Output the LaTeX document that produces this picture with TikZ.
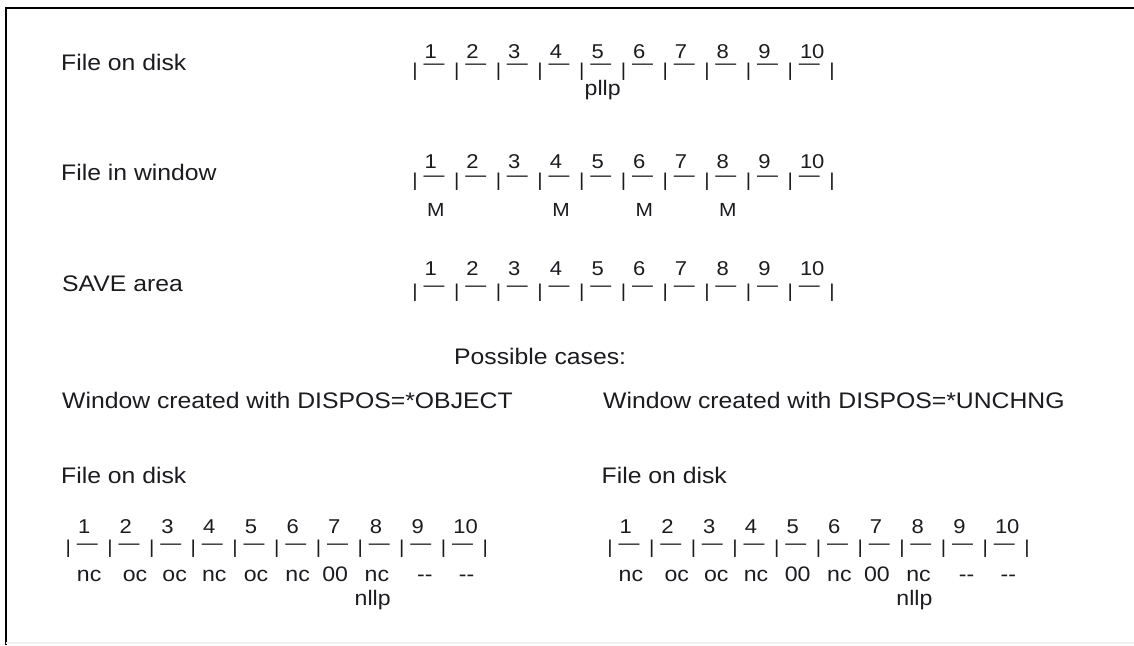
\documentclass[tikz,border=0pt]{standalone}
\usepackage{fontspec}
\setmainfont[FakeStretch=1.1]{Liberation Sans}
\definecolor{ink}{RGB}{28,28,32}
\newcommand\myruler[5]{%
  \foreach \k in {0,...,10}{\node[barglyph] (#1b\k) at ({#2+\k*41.7},#4) {|};}
  \foreach \k in {1,...,10}{%
    \node[dashglyph] (#1d\k) at ({#2+(\k-1)*41.7+19},#5) {—};
    \node[numtxt] (#1n\k) at ({#2+(\k-1)*41.7+9.5},#3) {\k};
  }%
}
\newcommand\mylabel[5]{% name, x0, cell, baseline, text
  \node[labtxt] (#1) at ({#2+(#3-0.5)*41.7},#4) {#5};
}
\begin{document}
\begin{tikzpicture}[x=1pt,y=-1pt,
  every node/.style={text=ink},
  maintxt/.style={font=\fontsize{22.5}{27}\selectfont, anchor=base west, inner sep=0pt},
  numtxt/.style={font=\fontsize{20}{24}\selectfont, anchor=base west, inner sep=0pt},
  barglyph/.style={font=\fontsize{18.6}{22}\selectfont, inner sep=0pt, anchor=center},
  dashglyph/.style={font=\fontsize{19}{23}\selectfont, inner sep=0pt, anchor=center},
  labtxt/.style={font=\fontsize{21}{25}\selectfont, anchor=base, inner sep=0pt},
  mtxt/.style={font=\fontsize{19}{23}\selectfont, anchor=base, inner sep=0pt},
  frame/.style={line width=2pt, black}]
\useasboundingbox (0,0) rectangle (1134,645);
\fill[white] (0,0) rectangle (1134,645);
\draw[frame] (6,645) -- (6,8) -- (1134,8);
\draw[gray!12, line width=1.5pt] (6,643) -- (1134,643);

% left labels
\node[maintxt] (t1) at (61,70) {File on disk};
\node[maintxt] (t2) at (61,180) {File in window};
\node[maintxt] (t3) at (62,291.7) {SAVE area};
\node[maintxt] (t4) at (454,364) {Possible cases:};
\node[maintxt] (t5) at (62,408.5) {Window created with DISPOS=*OBJECT};
\node[maintxt] (t6) at (603,408.5) {Window created with DISPOS=*UNCHNG};
\node[maintxt] (t7) at (61,483.3) {File on disk};
\node[maintxt] (t8) at (601.5,483.3) {File on disk};

% rulers
\myruler{ra}{415}{58.3}{71.7}{67}
\myruler{rb}{415}{168.3}{181.7}{178.5}
\myruler{rc}{415}{275}{292.5}{288.5}
\myruler{rd}{68.3}{533.3}{549.2}{546.5}
\myruler{re}{610}{533.3}{549.2}{546.5}

% ruler 1 label
\mylabel{pa}{415}{5}{95}{pllp}
% ruler 2 labels
\node[mtxt] (m1) at ({415+0.5*41.7},216.7) {M};
\node[mtxt] (m4) at ({415+3.5*41.7},216.7) {M};
\node[mtxt] (m6) at ({415+5.5*41.7},216.7) {M};
\node[mtxt] (m8) at ({415+7.5*41.7},216.7) {M};

% ruler 4 labels
\mylabel{da1}{68.3}{1}{581.7}{nc}
\mylabel{da2}{68.3}{2.1}{581.7}{oc}
\mylabel{da3}{68.3}{3.05}{581.7}{oc}
\mylabel{da4}{68.3}{4}{581.7}{nc}
\mylabel{da5}{68.3}{5}{581.7}{oc}
\mylabel{da6}{68.3}{6}{581.7}{nc}
\mylabel{da7}{68.3}{6.9}{581.7}{00}
\mylabel{da8}{68.3}{7.9}{581.7}{nc}
\mylabel{da9}{68.3}{9.05}{581.7}{-{}-}
\mylabel{da10}{68.3}{10.05}{581.7}{-{}-}
\mylabel{db8}{68.3}{7.8}{605.6}{nllp}

% ruler 5 labels
\mylabel{ea1}{610}{1}{581.7}{nc}
\mylabel{ea2}{610}{2.1}{581.7}{oc}
\mylabel{ea3}{610}{3.05}{581.7}{oc}
\mylabel{ea4}{610}{4}{581.7}{nc}
\mylabel{ea5}{610}{5}{581.7}{00}
\mylabel{ea6}{610}{6}{581.7}{nc}
\mylabel{ea7}{610}{6.9}{581.7}{00}
\mylabel{ea8}{610}{7.9}{581.7}{nc}
\mylabel{ea9}{610}{9.05}{581.7}{-{}-}
\mylabel{ea10}{610}{10.05}{581.7}{-{}-}
\mylabel{eb8}{610}{7.8}{605.6}{nllp}
\end{tikzpicture}
\end{document}
